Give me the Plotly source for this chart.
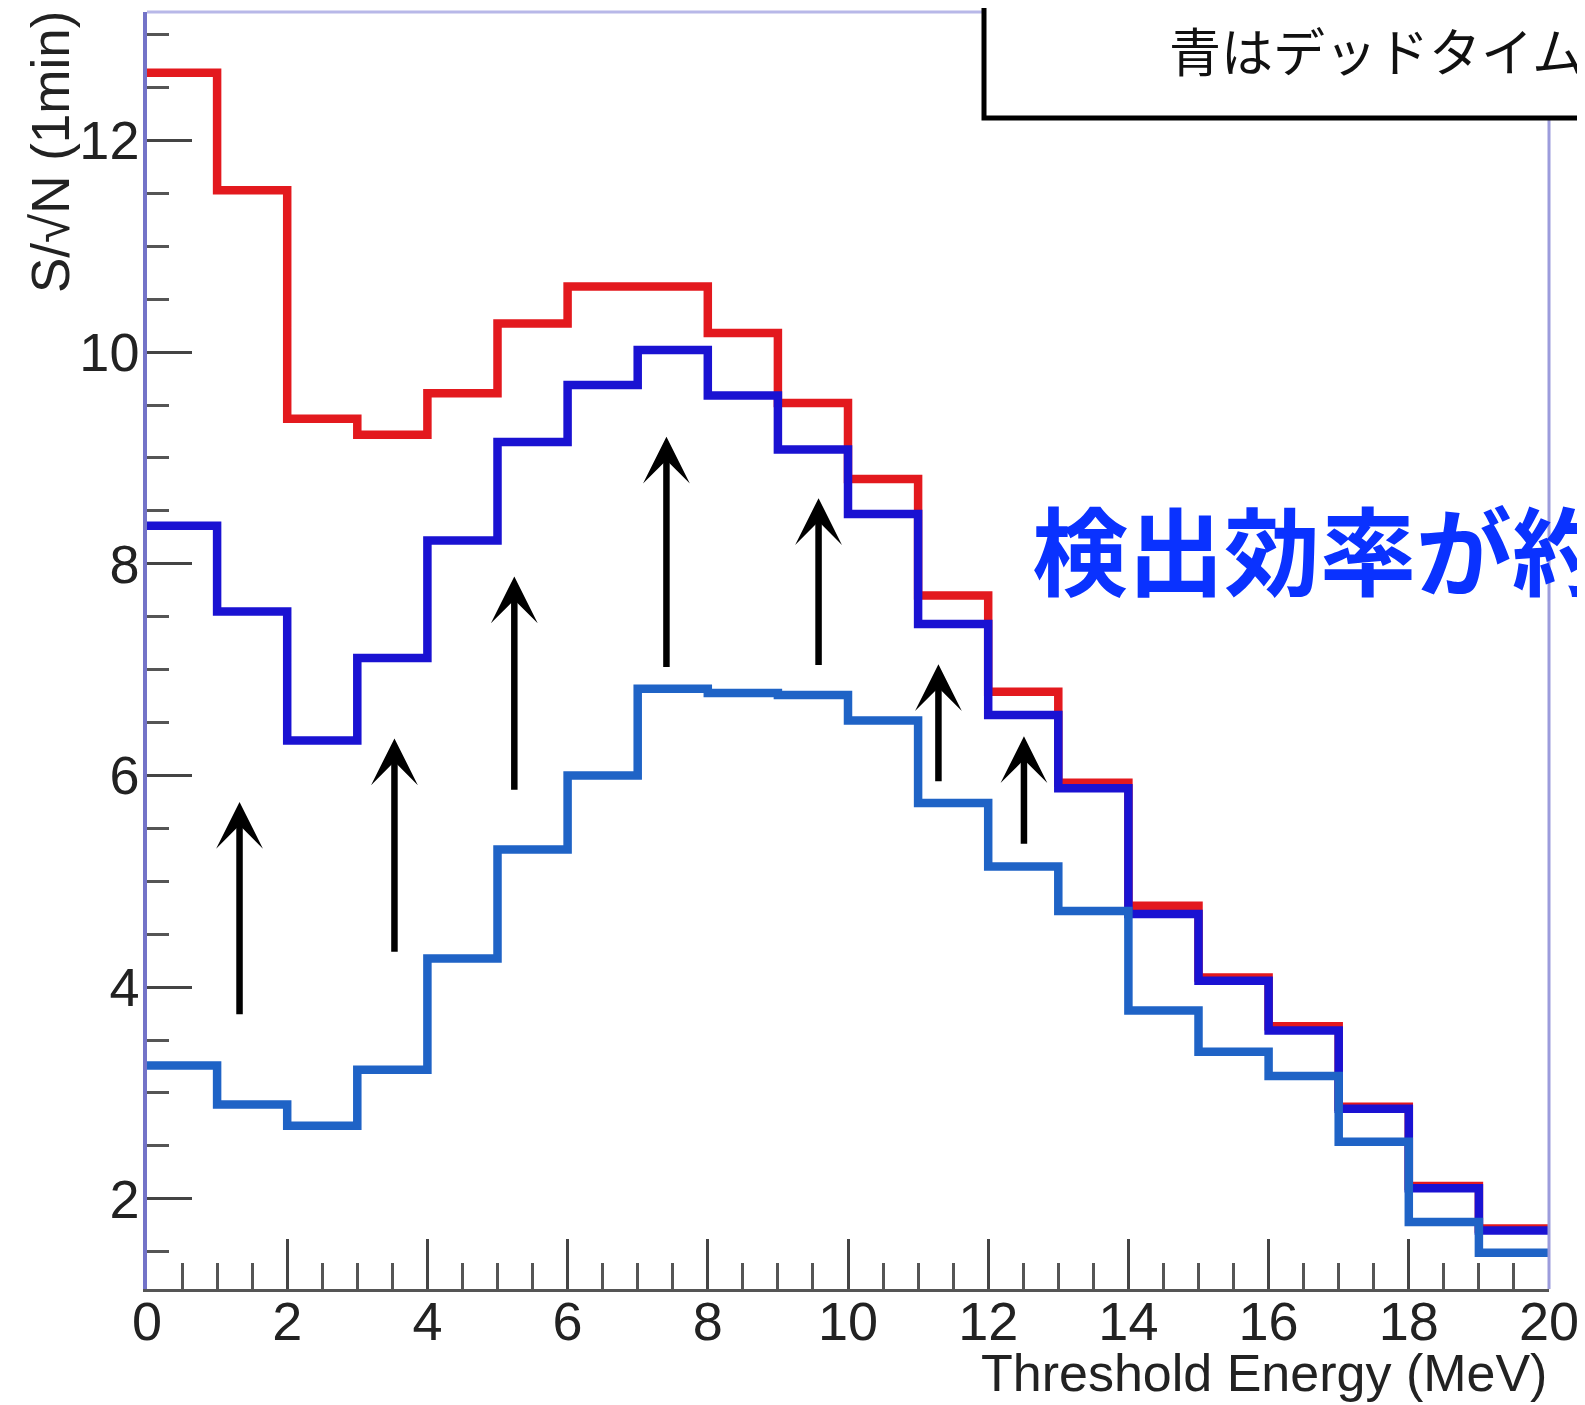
import plotly.graph_objects as go

# ---- data ----
bin_edges = list(range(0, 21))  # threshold energy bin edges (MeV)
red_vals = [12.64, 11.53, 9.37, 9.22, 9.61, 10.27, 10.62, 10.62, 10.18, 9.52,
            8.80, 7.70, 6.79, 5.93, 4.77, 4.09, 3.63, 2.87, 2.12, 1.72]
dark_blue_vals = [8.36, 7.55, 6.33, 7.11, 8.22, 9.15, 9.69, 10.02, 9.59, 9.08,
                  8.47, 7.43, 6.57, 5.88, 4.69, 4.06, 3.59, 2.85, 2.10, 1.70]
light_blue_vals = [3.26, 2.89, 2.69, 3.22, 4.27, 5.30, 6.00, 6.82, 6.78, 6.76,
                   6.52, 5.74, 5.14, 4.72, 3.78, 3.39, 3.16, 2.54, 1.78, 1.49]

# arrows: x position, tail y, head y (data units)
arrow_x = [1.32, 3.53, 5.24, 7.41, 9.58, 11.29, 12.51]
arrow_tail = [3.73, 4.32, 5.85, 7.01, 7.03, 5.93, 5.34]
arrow_head = [5.75, 6.35, 7.88, 9.20, 8.62, 7.05, 6.37]

x_ticks = [0, 2, 4, 6, 8, 10, 12, 14, 16, 18, 20]
y_ticks = [2, 4, 6, 8, 10, 12]

box_text = "青はデッドタイム"
blue_text = "検出効率が約"
x_title = "Threshold Energy (MeV)"
y_title = "S/√N (1min)"

OFF = 8  # page body margin
W, H = 1585 - OFF, 1405 - OFF
ML, MR, MT, MB = 147 - OFF, 36, 12 - OFF, 116
PW, PH = W - ML - MR, H - MT - MB

def px_x(px):
    return (px - OFF - ML) / PW

def px_y(py):
    return 1 - (py - OFF - MT) / PH

fig = go.Figure()

def step(vals, color):
    fig.add_trace(go.Scatter(
        x=bin_edges, y=vals + [vals[-1]], mode="lines",
        line=dict(color=color, width=8.5, shape="hv"),
        hoverinfo="skip", showlegend=False))

step(red_vals, "#e3191e")
step(dark_blue_vals, "#1a12d2")
step(light_blue_vals, "#1f63c6")

annotations = []
for xa, yt, yh in zip(arrow_x, arrow_tail, arrow_head):
    annotations.append(dict(
        x=xa, y=yh, ax=xa, ay=yt, xref="x", yref="y", axref="x", ayref="y",
        text="", showarrow=True, arrowhead=3, arrowwidth=6.5, arrowsize=1.2,
        arrowcolor="black", standoff=0, startstandoff=0))

# top-right box text
annotations.append(dict(
    x=px_x(1167), y=px_y(50), xref="paper", yref="paper",
    xanchor="left", yanchor="middle", text=box_text, showarrow=False,
    font=dict(family="Noto Sans CJK JP", size=52, color="#111111")))

# blue statement
annotations.append(dict(
    x=px_x(1030), y=px_y(546), xref="paper", yref="paper",
    xanchor="left", yanchor="middle", text="<b>" + blue_text + "</b>",
    showarrow=False,
    font=dict(family="Noto Sans CJK JP", size=96, color="#0a32ff")))

# axis titles
annotations.append(dict(
    x=1.0, y=px_y(1373), xref="paper", yref="paper",
    xanchor="right", yanchor="middle", text=x_title, showarrow=False,
    font=dict(family="Liberation Sans, Arial", size=52, color="#222222")))
annotations.append(dict(
    x=px_x(51), y=px_y(9), xref="paper", yref="paper",
    xanchor="center", yanchor="top", text=y_title, showarrow=False,
    textangle=-90,
    font=dict(family="Liberation Sans, Arial", size=53, color="#222222")))

shapes = [
    # top and right frame lines
    dict(type="line", xref="paper", yref="paper", x0=0, x1=1, y0=1, y1=1,
         line=dict(color="#b8b8e8", width=3), layer="above"),
    dict(type="line", xref="paper", yref="paper", x0=1, x1=1, y0=0, y1=1,
         line=dict(color="#9c9cdc", width=3), layer="above"),
    # white box with black border at top right
    dict(type="rect", xref="paper", yref="paper",
         x0=px_x(984), x1=px_x(1700), y0=px_y(118), y1=px_y(-60),
         line=dict(color="black", width=5), fillcolor="white", layer="above"),
]

tickfont = dict(family="Liberation Sans, Arial", size=54, color="#222222")

fig.update_layout(
    width=W, height=H,
    margin=dict(l=ML, r=MR, t=MT, b=MB, pad=0),
    paper_bgcolor="white", plot_bgcolor="white",
    showlegend=False,
    annotations=annotations, shapes=shapes,
    xaxis=dict(range=[0, 20], tickvals=x_ticks, ticktext=[str(v) for v in x_ticks],
               ticks="inside", ticklen=50, tickwidth=2.5, tickcolor="#444444",
               minor=dict(dtick=0.5, tick0=0, ticks="inside", ticklen=26,
                          tickwidth=2.5, tickcolor="#555555", showgrid=False),
               showgrid=False, zeroline=False, showline=True,
               linecolor="#555555", linewidth=3, tickfont=tickfont,
               ticklabelstandoff=-17),
    yaxis=dict(range=[1.148, 13.213], tickvals=y_ticks,
               ticktext=[str(v) for v in y_ticks],
               ticks="inside", ticklen=45, tickwidth=2.5, tickcolor="#444444",
               minor=dict(dtick=0.5, tick0=0, ticks="inside", ticklen=22,
                          tickwidth=2.5, tickcolor="#555555", showgrid=False),
               showgrid=False, zeroline=False, showline=True,
               linecolor="#7373c8", linewidth=3.5, tickfont=tickfont,
               ticklabelstandoff=-7),
)

fig.write_html("out.html")
